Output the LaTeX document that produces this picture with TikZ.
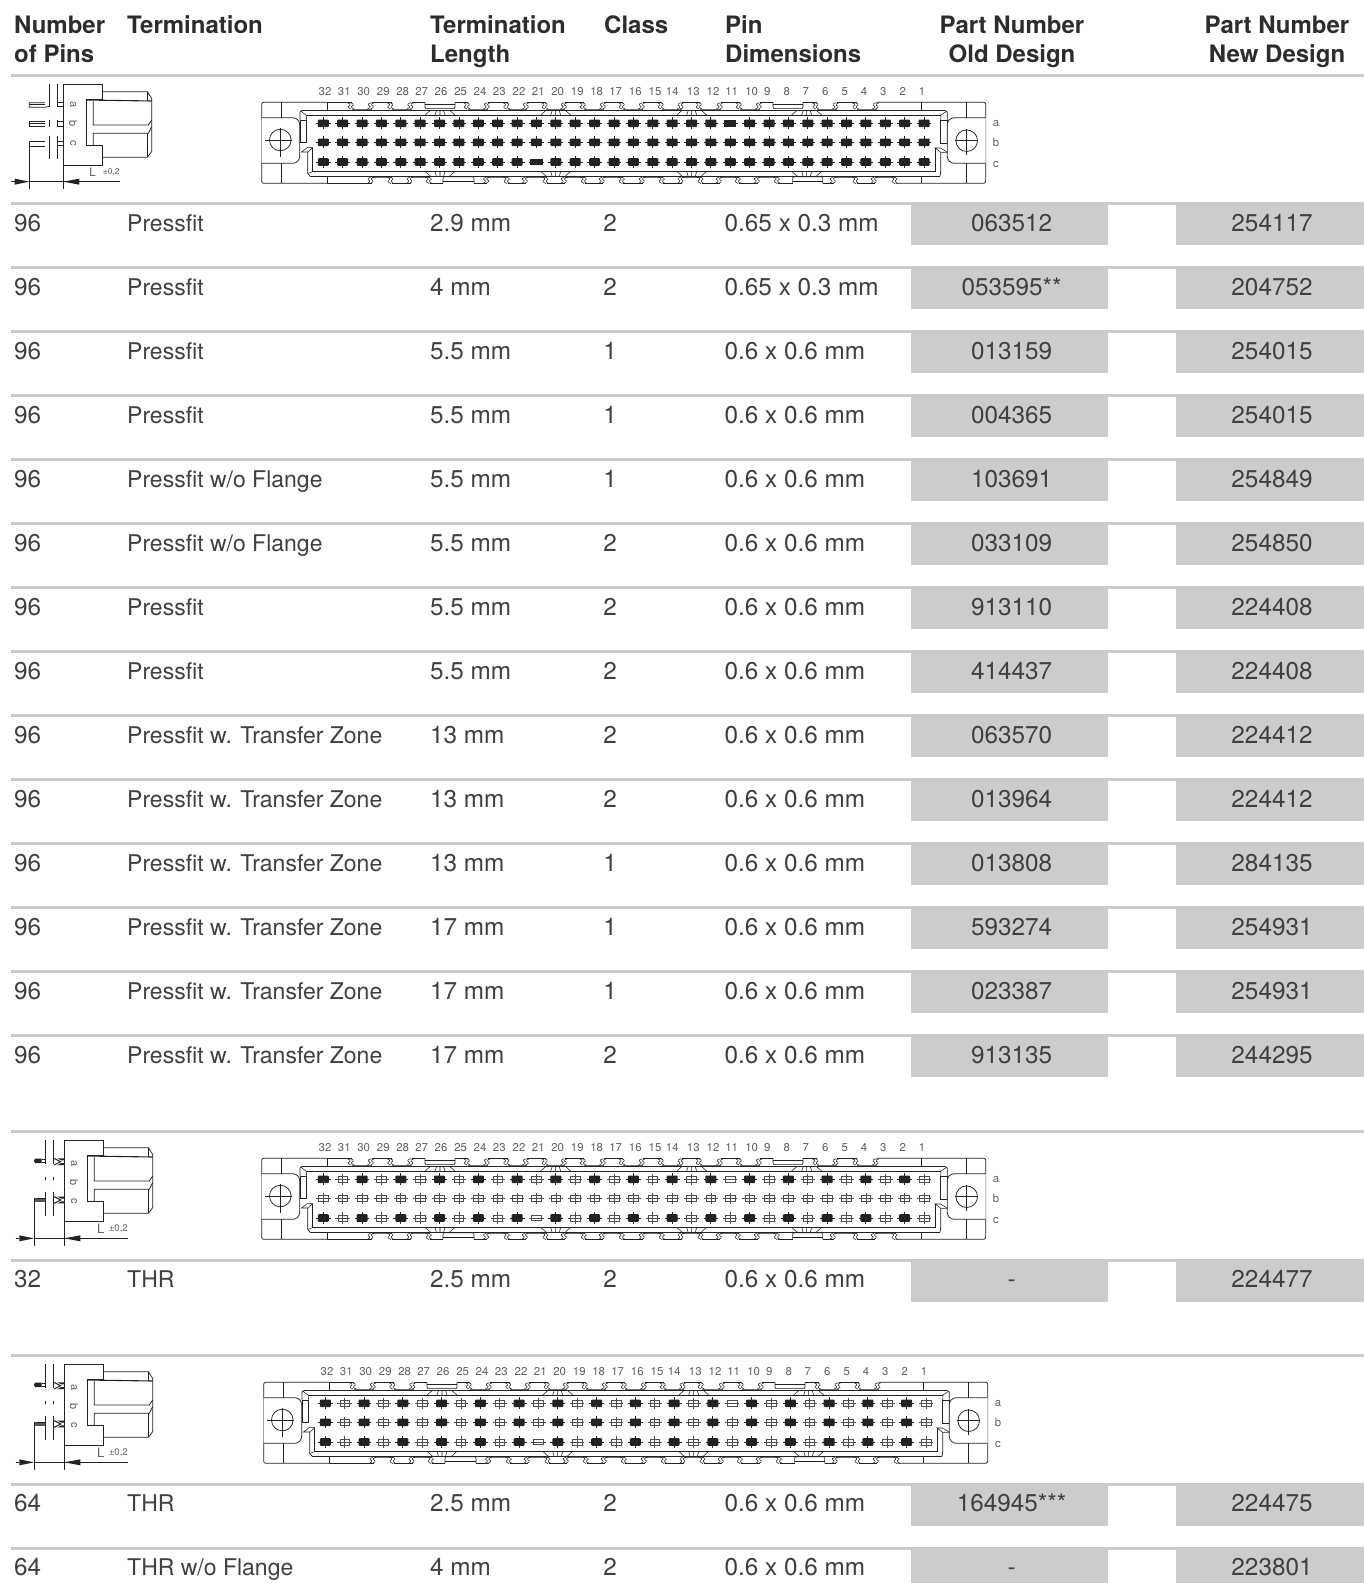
\documentclass[tikz,border=0pt]{standalone}
\usepackage{fontspec}
\setmainfont{TeX Gyre Heros}
\definecolor{txt}{HTML}{404040}
\definecolor{smalltxt}{HTML}{606060}
\definecolor{rulec}{HTML}{CBCBCB}
\definecolor{boxc}{HTML}{CCCCCC}
\definecolor{inkc}{HTML}{222222}
\def\rowdy{28.2}
\tikzset{
  ln/.style={draw=inkc,line width=0.75pt},
  thin ln/.style={draw=inkc,line width=0.55pt},
  recess/.style={draw=inkc!65,line width=1.3pt},
  body text/.style={anchor=base west,inner sep=0pt,text=txt,font=\fontsize{23}{27}\selectfont},
  num text/.style={anchor=base west,inner sep=0pt,text=txt,font=\fontsize{24.3}{27}\selectfont},
  cell text/.style={anchor=base,inner sep=0pt,text=txt,font=\fontsize{24.3}{27}\selectfont},
  head text/.style={anchor=base west,inner sep=0pt,text=txt!70!black,font=\fontsize{24}{28}\selectfont\bfseries},
  head mid/.style={anchor=base,inner sep=0pt,text=txt!70!black,font=\fontsize{24}{28}\selectfont\bfseries},
  tiny text/.style={anchor=center,inner sep=0pt,text=smalltxt,font=\fontsize{11.4}{12}\selectfont},
  tiny base/.style={anchor=base,inner sep=0pt,text=smalltxt,font=\fontsize{11.4}{12}\selectfont},
  partbox/.style={fill=boxc,draw=none},
  rulebar/.style={draw=rulec,line width=3pt},
  pinf/.pic={
    \fill[inkc,rounded corners=1pt] (-5.5,-3.8) rectangle (5.5,3.8);
    \draw[inkc,line width=0.9pt] (-7.4,0)--(7.4,0) (0,-6)--(0,6);
  },
  pinw/.pic={
    \fill[inkc] (-6.2,-3.4) rectangle (6.2,3.4);
    \draw[inkc,line width=0.9pt] (-7.4,0)--(7.4,0);
  },
  pino/.pic={
    \draw[inkc!80,line width=0.6pt] (-4.8,-2.8) rectangle (4.8,2.8);
    \draw[inkc!80,line width=0.7pt] (-7.2,0)--(7.2,0) (0,-5.8)--(0,5.8);
  },
  pinr/.pic={
    \draw[inkc!80,line width=0.6pt] (-5,-2.6) rectangle (5,2.6);
    \draw[inkc!80,line width=0.7pt] (-7.2,0)--(7.2,0);
  }
}
\newcommand{\smk}[3]{% x, top y, sign
  \foreach \o in {-2.8,0.4}{
    \draw[thin ln,rounded corners=1pt] ({#1+\o+2*#3},#2) -- ({#1+\o-1.6*#3},{#2+1.8}) -- ({#1+\o+1.6*#3},{#2+4.4}) -- ({#1+\o-2*#3},{#2+6.6});
  }
}
\newcommand{\fanup}[1]{%
  \draw[thin ln] ({#1-15},115)--({#1-10},110.7) ({#1+15},115)--({#1+10},110.7)
    ({#1-5},115)--({#1-3.5},110.7) ({#1+5},115)--({#1+3.5},110.7) (#1,110.7)--(#1,115);
}
\newcommand{\fandn}[1]{%
  \draw[thin ln] ({#1-15},171.3)--({#1-9},176.7) ({#1+15},171.3)--({#1+9},176.7)
    ({#1-5},171.3)--({#1-3.5},176.7) ({#1+5},171.3)--({#1+3.5},176.7) (#1,171.3)--(#1,176.7);
}
% connector front view: shift x, shift y, pin mode, name
\newcommand{\frontview}[4]{%
\begin{scope}[shift={(#1,#2)}]
  % outline
  \draw[ln,rounded corners=2pt] (327,102.3)--(261.7,102.3)--(261.7,183.3)--(327,183.3);
  \draw[ln,rounded corners=2pt] (876.7,102.3)--(985.7,102.3)--(985.7,183.3)--(895.7,183.3);
  \foreach \a/\b in {327/352,372/391.5,411.5/425,455/468,488/507.5,527/546,565/584,604/623,643/662,681.7/700,721/740,760/773,803/816.7,836.7/856.7}
    \draw[ln] (\a,102.3)--(\b,102.3);
  \foreach \a/\b in {327/371.7,391.7/410.7,430/443,474/487.3,508/526,546.7/565,585/603,623/643,663/681.7,701.7/720,739/758,778/792.7,822.7/834,856.7/875}
    \draw[ln] (\a,183.3)--(\b,183.3);
  % recessed stretches
  \foreach \a/\b in {352/372,391.5/411.5,468/488,507.5/527,546/565,584/604,623/643,662/681.7,700/721,740/760,816.7/836.7,856.7/876.7}{
    \draw[recess] (\a,109.3)--(\b,109.3);
    \smk{\a}{102.6}{-1}\smk{\b}{102.6}{1}
  }
  \foreach \a/\b in {371.7/391.7,410.7/430,487.3/508,526/546.7,565/585,603/623,643/663,681.7/701.7,720/739,758/778,834/856.7,875/895.7}{
    \draw[recess] (\a,177.2)--(\b,177.2);
    \smk{\a}{177}{1}\smk{\b}{177}{-1}
  }
  % insets in the edge
  \foreach \a/\b in {425/455,773/803}{
    \draw[thin ln,rounded corners=1pt] (\a,102.3)--(\a,108.3)--(\b,108.3)--(\b,102.3);
    \draw[thin ln] (\a,104)--(\b,104);
    \fill[inkc!70] (\a,107.6) rectangle (\b,108.8);
  }
  \foreach \a/\b in {443/474,792.7/822.7}{
    \draw[thin ln,rounded corners=1pt] (\a,183.3)--(\a,176.9)--(\b,176.9)--(\b,183.3);
    \draw[ln] (\a,181)--(\b,181);
  }
  % frame
  \draw[ln] (302,110.7)--(945,110.7);
  \draw[ln] (306,115)--(941,115);
  \draw[ln] (312.7,171.5)--(935,171.5);
  \draw[ln] (310,176)--(940,176);
  \foreach \c in {440,555.7,691.7,806.7}{\fanup{\c}\fandn{\c}}
  % left end of the frame
  \draw[ln,rounded corners=1.5pt] (300,120)--(300,110.7)--(303,110.7);
  \draw[thin ln] (300.5,111)--(306,115)--(306.7,120);
  \draw[ln] (300,120) rectangle (306.7,142.7);
  \draw[thin ln] (301.5,152)--(307,147.7)--(312.7,147.7)--(308,152)--cycle;
  \draw[ln] (312.7,147.7)--(312.7,171.5);
  \draw[ln] (307.7,152)--(307.7,173.5)--(310,176);
  \draw[thin ln] (307.7,173.5)--(312.7,171.5);
  % right end of the frame
  \draw[ln,rounded corners=1.5pt] (945,110.7)--(947.3,110.7)--(947.3,120);
  \draw[thin ln] (947,111)--(941,115)--(940.7,120);
  \draw[ln] (940.7,120) rectangle (947.3,143);
  \draw[thin ln] (935,148)--(940.7,148)--(947.3,152.3)--(940.7,152.3)--cycle;
  \draw[ln] (935,148)--(935,171.5);
  \draw[ln] (940.7,152.3)--(940.7,172)--(940,176);
  % flanges
  \draw[ln,fill=white,rounded corners=7pt] (261.7,117.7)--(299.7,117.7)--(299.7,163.3)--(261.7,163.3);
  \draw[ln,fill=white,rounded corners=7pt] (985.7,117.7)--(947.3,117.7)--(947.3,163.3)--(985.7,163.3);
  \draw[ln] (281,102.3)--(281,117.7) (281,163.3)--(281,183.3);
  \draw[ln] (966.7,102.3)--(966.7,117.7) (966.7,163.3)--(966.7,183.3);
  \draw[ln] (327,102.3)--(327,110.7) (327,176)--(327,183.3);
  \draw[ln] (921,102.3)--(921,110.7) (921,176)--(921,183.3);
  \draw[ln] (280.3,140) circle (10.8);
  \draw[ln] (265,140)--(291.7,140) (280.3,128)--(280.3,157);
  \draw[ln] (966.7,140.7) circle (10.8);
  \draw[ln] (955,140.7)--(978,140.7) (966.7,129)--(966.7,155);
  % column numbers
  \foreach \n/\x in {32/325,31/344.3,30/363.7,29/383.3,28/402.7,27/421.7,26/441,25/460.7,24/480,23/499.3,22/519,21/538.3,20/557.7,19/577.3,18/596.7,17/615.7,16/635.3,15/655,14/672.3,13/693.3,12/713,11/731.7,10/751.7,9/767.3,8/786.7,7/805.7,6/825.3,5/844.7,4/864,3/883.3,2/902.7,1/922}
    \node[tiny base] (#4n\n) at (\x,95.2) {\n};
  \node[tiny base] (#4ra) at (996,126.7) {a};
  \node[tiny base] (#4rb) at (996,146) {b};
  \node[tiny base] (#4rc) at (996,167) {c};
  % pins
  \foreach \r/\yy in {0/123.3,1/142.3,2/162}{
    \foreach \i in {0,...,31}{
      \pgfmathsetmacro{\xx}{323.3+19.38*\i}
      \pgfmathtruncatemacro{\ev}{mod(\i,2)==0 ? 1 : 0}
      \pgfmathtruncatemacro{\wide}{((\r==0 && \i==21) || (\r==2 && \i==11)) ? 1 : 0}
      \ifnum#3=0
        \ifnum\wide=1 \pic at (\xx,\yy) {pinw};\else \pic at (\xx,\yy) {pinf};\fi
      \else
        \ifnum\wide=1 \pic at (\xx,\yy) {pinr};\else
          \pgfmathtruncatemacro{\solid}{(\ev==1 && (#3==2 || \r!=1)) ? 1 : 0}
          \ifnum\solid=1 \pic at (\xx,\yy) {pinf};\else \pic at (\xx,\yy) {pino};\fi
        \fi
      \fi
    }
  }
\end{scope}}
% shared housing in 3x crop coordinates
\newcommand{\housing}{%
  \draw[ln] (190,42)--(308,42)--(308,88)--(258,88)--(258,225)--(308,225)--(308,285)--(190,285)--cycle;
  \draw[ln] (308,65)--(442,65)--(455,85)--(455,245)--(442,262)--(308,262);
  \draw[ln,line width=1.1pt] (258,90)--(455,93);
  \draw[ln] (280,93)--(280,165)--(445,165)--(455,150);
  \draw[ln] (280,225)--(280,190)--(445,190)--(455,170);
  \draw[ln] (442,65)--(442,93) (442,190)--(442,262);
}
\newcommand{\sidelabel}[3]{%
  \node[tiny text,rotate=-90,font=\fontsize{11}{12}\selectfont] (#1a) at (#2,#3) {a};
  \node[tiny text,rotate=-90,font=\fontsize{11}{12}\selectfont] (#1b) at (#2,{#3+57}) {b};
  \node[tiny text,rotate=-90,font=\fontsize{11}{12}\selectfont] (#1c) at (#2,{#3+115}) {c};
}
\newcommand{\dimline}[4]{% y, left x, right x, line end x
  \draw[thin ln] (#2,#1)--(#4,#1);
  \fill[inkc] ({#2-44},{#1-9})--(#2,#1)--({#2-44},{#1+9})--cycle;
  \draw[thin ln] ({#2-54},#1)--({#2-44},#1);
  \fill[inkc] ({#3+48},{#1-9})--(#3,#1)--({#3+48},{#1+9})--cycle;
}
\newcommand{\sideA}{%
\begin{scope}[shift={(0,70)},x=0.3333pt,y=-0.3333pt]
  \housing
  \draw[thin ln] (148,42)--(148,112) (172,42)--(172,112) (148,150)--(148,172) (172,150)--(172,172) (148,198)--(148,268) (172,198)--(172,268);
  \draw[ln] (135,98)--(88,98)--(88,112)--(135,112)--(148,109);
  \draw[thin ln] (88,103)--(135,103) (172,98)--(190,98) (172,110)--(190,110);
  \draw[ln] (135,155)--(88,155)--(88,170)--(135,170);
  \draw[thin ln] (88,160)--(135,160) (172,155)--(190,155) (172,168)--(190,168);
  \draw[ln] (135,214)--(88,214)--(88,228)--(135,228);
  \draw[thin ln] (172,214)--(190,214) (172,226)--(190,226);
  \draw[thin ln] (88,214)--(88,358) (190,285)--(190,358);
  \dimline{335}{88}{190}{360}
  \sidelabel{sa}{220}{105}
  \node[tiny text,font=\fontsize{11.6}{12}\selectfont] (saL) at (278,307) {L};
  \node[tiny text,font=\fontsize{8.4}{9}\selectfont,anchor=west] (satol) at (308,305) {±0,2};
\end{scope}}
\newcommand{\sideB}[3]{% shift x, shift y, name
\begin{scope}[shift={(#1,#2)},x=0.3333pt,y=-0.3333pt]
  \begin{scope}[shift={(3,3)}]\housing\end{scope}
  \draw[thin ln] (135,45)--(135,118) (160,45)--(160,118) (135,155)--(135,165) (160,155)--(160,165) (135,200)--(135,272) (160,200)--(160,272);
  % upper lead
  \fill[inkc] (125,101)--(106,101)--(101,107)--(106,114)--(125,114)--cycle;
  \draw[thin ln] (125,103)--(137,103) (125,112)--(137,112);
  \draw[ln,line width=1pt] (162,100)--(182,110)--(162,120);
  \fill[inkc] (172,100)--(193,100)--(193,106)--(184,106)--cycle;
  \fill[inkc] (172,120)--(193,120)--(193,114)--(184,114)--cycle;
  % lower lead
  \fill[inkc!75] (103,218)--(135,218)--(135,232)--(103,232)--cycle;
  \fill[inkc] (108,218) rectangle (135,223);
  \draw[ln,line width=1pt] (162,215)--(182,225)--(162,235);
  \fill[inkc] (172,215)--(193,215)--(193,221)--(184,221)--cycle;
  \fill[inkc] (172,235)--(193,235)--(193,229)--(184,229)--cycle;
  \draw[thin ln] (102,218)--(102,362) (193,290)--(193,362);
  \dimline{340}{102}{193}{383}
  \sidelabel{#3}{222}{115}
  \node[tiny text,font=\fontsize{13}{14}\selectfont] (#3L) at (302,312) {L};
  \node[tiny text,font=\fontsize{9.6}{10}\selectfont,anchor=west] (#3tol) at (326,310) {±0,2};
\end{scope}}
\newcommand{\rowline}[9]{% rule y, n, term, len, class, dim, old, new, name
  \fill[partbox] (911,#1) rectangle (1107.5,{min(#1+42,1583)});
  \fill[partbox] (1176,#1) rectangle (1364,{min(#1+42,1583)});
  \draw[rulebar] (11,#1)--(1364,#1);
  \node[num text] (#9a) at (14,{#1+\rowdy}) {#2};
  \node[body text] (#9b) at (127,{#1+\rowdy}) {#3};
  \node[num text] (#9c) at (430,{#1+\rowdy}) {#4};
  \node[cell text] (#9d) at (610,{#1+\rowdy}) {#5};
  \node[num text] (#9e) at (724.5,{#1+\rowdy}) {#6};
  \node[cell text] (#9f) at (1011.6,{#1+\rowdy}) {#7};
  \node[cell text] (#9g) at (1272,{#1+\rowdy}) {#8};
}
\begin{document}
\begin{tikzpicture}[x=1pt,y=-1pt]
\useasboundingbox (0,0) rectangle (1364,1583);
\fill[white] (0,0) rectangle (1364,1583);
% header
\node[head text] (h1a) at (14,33) {Number};
\node[head text] (h1b) at (14,62) {of Pins};
\node[head text] (h2) at (127,33) {Termination};
\node[head text] (h3a) at (430,33) {Termination};
\node[head text] (h3b) at (430,62) {Length};
\node[head text] (h4) at (604,33) {Class};
\node[head text] (h5a) at (725,33) {Pin};
\node[head text] (h5b) at (725,62) {Dimensions};
\node[head mid] (h6a) at (1012,33) {Part Number};
\node[head mid] (h6b) at (1012,62) {Old Design};
\node[head mid] (h7a) at (1277,33) {Part Number};
\node[head mid] (h7b) at (1277,62) {New Design};
\draw[rulebar] (11,75.3)--(1364,75.3);
% group one
\sideA
\frontview{0}{0}{0}{fa}
\rowline{203}{96}{Pressfit}{2.9 mm}{2}{0.65 x 0.3 mm}{063512}{254117}{ra}
\rowline{267}{96}{Pressfit}{4 mm}{2}{0.65 x 0.3 mm}{053595**}{204752}{rb}
\rowline{331}{96}{Pressfit}{5.5 mm}{1}{0.6 x 0.6 mm}{013159}{254015}{rc}
\rowline{395}{96}{Pressfit}{5.5 mm}{1}{0.6 x 0.6 mm}{004365}{254015}{rd}
\rowline{459}{96}{Pressfit w/o Flange}{5.5 mm}{1}{0.6 x 0.6 mm}{103691}{254849}{re}
\rowline{523}{96}{Pressfit w/o Flange}{5.5 mm}{2}{0.6 x 0.6 mm}{033109}{254850}{rf}
\rowline{587}{96}{Pressfit}{5.5 mm}{2}{0.6 x 0.6 mm}{913110}{224408}{rg}
\rowline{651}{96}{Pressfit}{5.5 mm}{2}{0.6 x 0.6 mm}{414437}{224408}{rh}
\rowline{715}{96}{Pressfit w. Transfer Zone}{13 mm}{2}{0.6 x 0.6 mm}{063570}{224412}{ri}
\rowline{779}{96}{Pressfit w. Transfer Zone}{13 mm}{2}{0.6 x 0.6 mm}{013964}{224412}{rj}
\rowline{843}{96}{Pressfit w. Transfer Zone}{13 mm}{1}{0.6 x 0.6 mm}{013808}{284135}{rk}
\rowline{907}{96}{Pressfit w. Transfer Zone}{17 mm}{1}{0.6 x 0.6 mm}{593274}{254931}{rl}
\rowline{971}{96}{Pressfit w. Transfer Zone}{17 mm}{1}{0.6 x 0.6 mm}{023387}{254931}{rm}
\rowline{1035}{96}{Pressfit w. Transfer Zone}{17 mm}{2}{0.6 x 0.6 mm}{913135}{244295}{rn}
% group two
\def\rowdy{27.4}
\draw[rulebar] (11,1131.7)--(1364,1131.7);
\sideB{0}{1125}{sb}
\frontview{0}{1056}{1}{fb}
\rowline{1260}{32}{THR}{2.5 mm}{2}{0.6 x 0.6 mm}{-}{224477}{ro}
% group three
\draw[rulebar] (11,1355.7)--(1364,1355.7);
\sideB{0}{1349}{sc}
\frontview{2}{1280}{2}{fc}
\rowline{1484}{64}{THR}{2.5 mm}{2}{0.6 x 0.6 mm}{164945***}{224475}{rp}
\rowline{1548}{64}{THR w/o Flange}{4 mm}{2}{0.6 x 0.6 mm}{-}{223801}{rq}
\end{tikzpicture}
\end{document}
